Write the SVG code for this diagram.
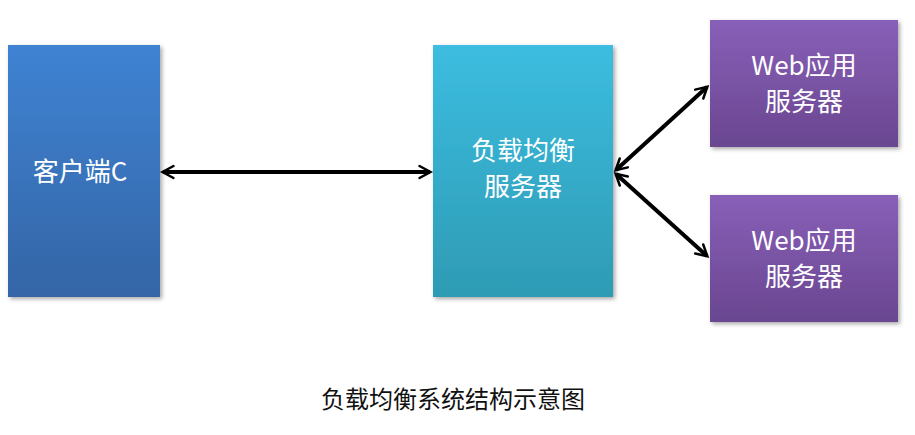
<svg xmlns="http://www.w3.org/2000/svg" width="915" height="435" viewBox="0 0 915 435">
<style>
text{font-family:"Noto Sans CJK SC","Liberation Sans",sans-serif;fill:#fff;font-size:26px;text-anchor:middle}
.cap{fill:#111;font-size:24px}
.c{stroke:#000;stroke-width:4;fill:none;marker-start:url(#a);marker-end:url(#a)}
</style>
<defs>
<linearGradient id="gb" x1="0" y1="0" x2="0" y2="1"><stop offset="0" stop-color="#3f83d3"/><stop offset="1" stop-color="#3465a6"/></linearGradient>
<linearGradient id="gc" x1="0" y1="0" x2="0" y2="1"><stop offset="0" stop-color="#3cbde0"/><stop offset="1" stop-color="#2e9bb4"/></linearGradient>
<linearGradient id="gp" x1="0" y1="0" x2="0" y2="1"><stop offset="0" stop-color="#8860b8"/><stop offset="1" stop-color="#6a4690"/></linearGradient>
<filter id="sh" x="-10%" y="-10%" width="130%" height="130%"><feDropShadow dx="2" dy="2" stdDeviation="2" flood-opacity="0.35"/></filter>
<marker id="a" viewBox="0 0 12 12" refX="11" refY="6" markerWidth="6" markerHeight="6" orient="auto-start-reverse" markerUnits="userSpaceOnUse" overflow="visible">
<path d="M0,0 L11,6 L0,12" fill="none" stroke="#000" stroke-width="2.5" stroke-linecap="round" transform="scale(2) translate(-5,-3)"/>
</marker>
</defs>
<g id="connectors">
<line class="c" x1="163" y1="172" x2="430" y2="172"/>
<line class="c" x1="616" y1="170" x2="707" y2="87"/>
<line class="c" x1="616" y1="174" x2="707" y2="256"/>
</g>
<g id="client"><rect x="8" y="45" width="152" height="252" fill="url(#gb)" filter="url(#sh)"/><text x="80" y="181">客户端C</text></g>
<g id="lb"><rect x="433" y="45" width="180" height="252" fill="url(#gc)" filter="url(#sh)"/><text x="523" y="160">负载均衡</text><text x="523" y="196">服务器</text></g>
<g id="web1"><rect x="710" y="20" width="188" height="127" fill="url(#gp)" filter="url(#sh)"/><text x="804" y="75">Web应用</text><text x="804" y="111">服务器</text></g>
<g id="web2"><rect x="710" y="195" width="188" height="127" fill="url(#gp)" filter="url(#sh)"/><text x="804" y="250">Web应用</text><text x="804" y="286">服务器</text></g>
<text class="cap" x="453" y="408">负载均衡系统结构示意图</text>
</svg>
